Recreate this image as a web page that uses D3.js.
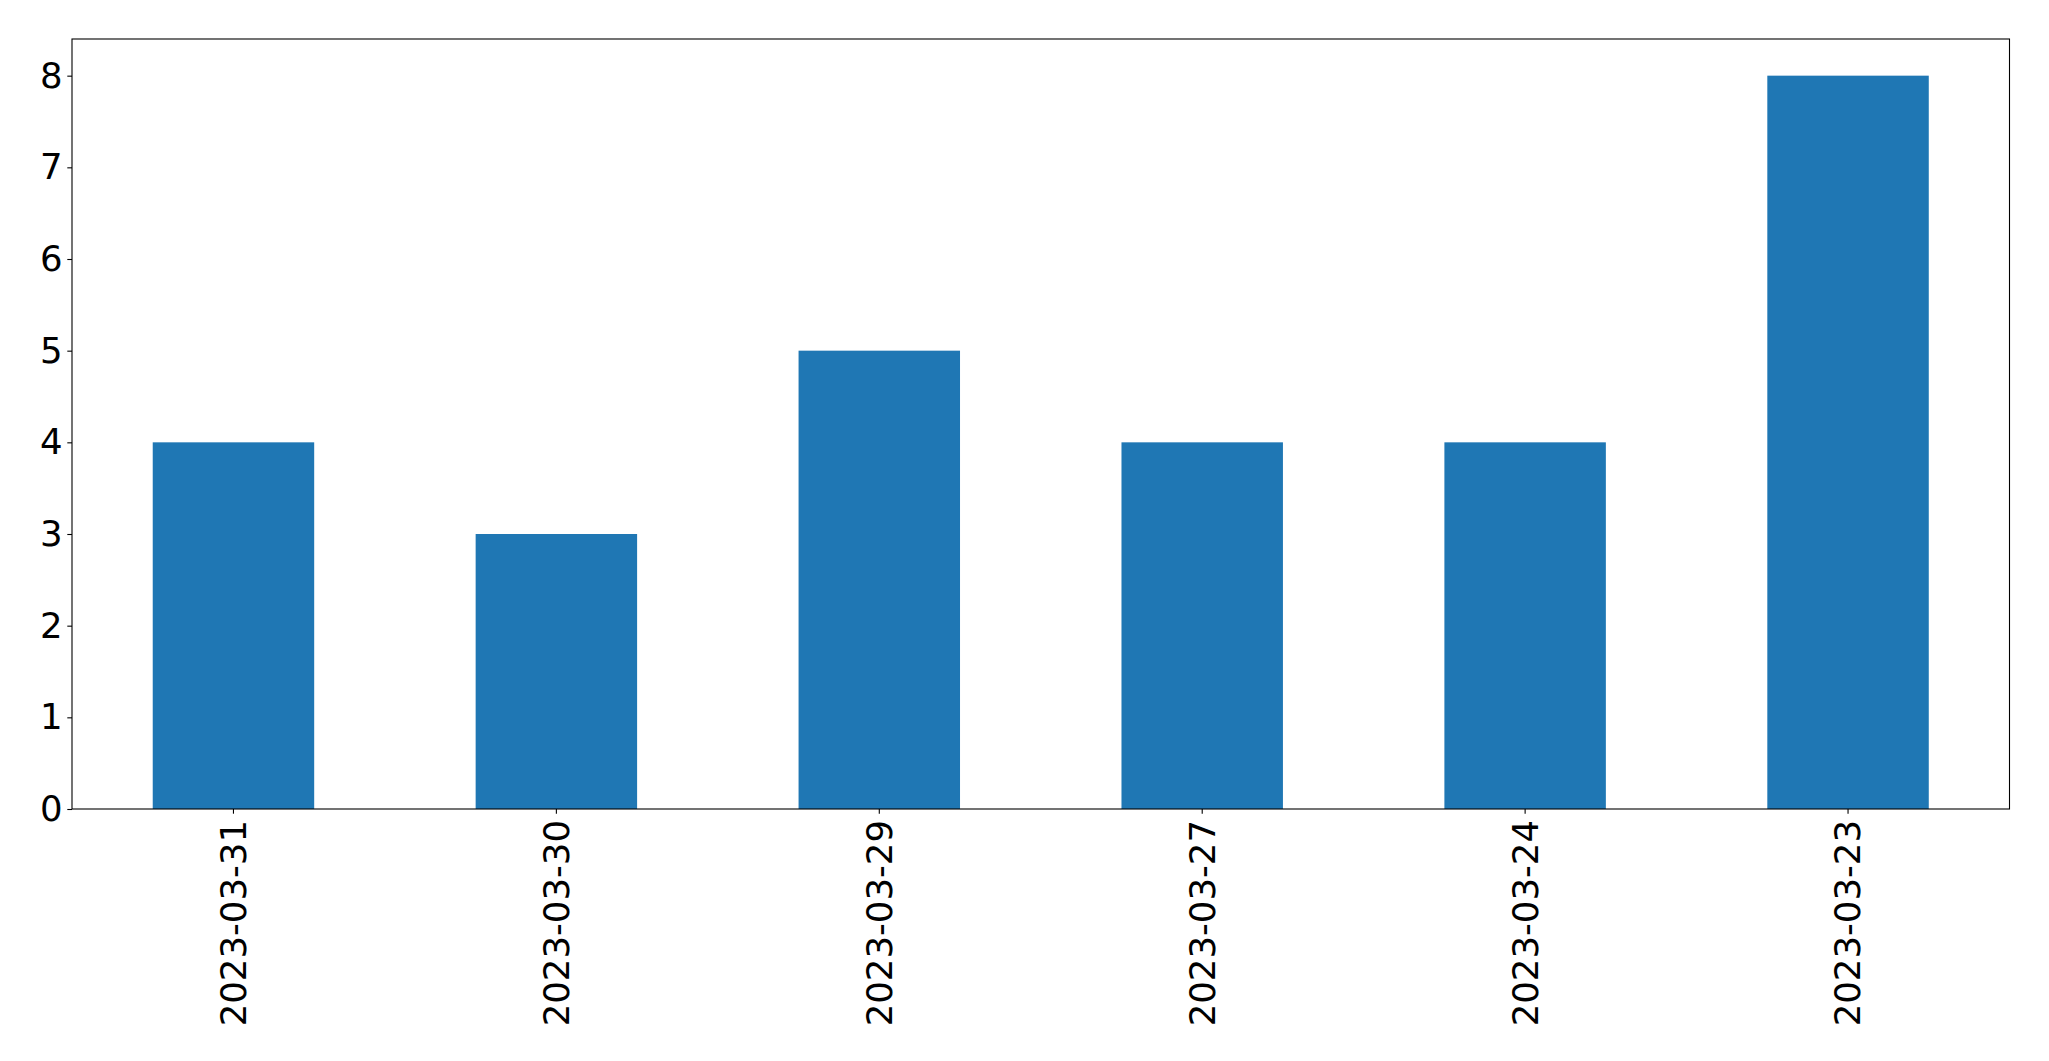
<!DOCTYPE html>
<html>
<head>
<meta charset="utf-8">
<script src="https://cdn.jsdelivr.net/npm/d3@7"></script>
<style>
  html, body { margin: 0; padding: 0; background: #fff; }
  svg { display: block; }
  text { font-family: "DejaVu Sans", sans-serif; }
</style>
</head>
<body>
<script>
const categories = ["2023-03-31", "2023-03-30", "2023-03-29", "2023-03-27", "2023-03-24", "2023-03-23"];
const values = [4, 3, 5, 4, 4, 8];
const yTicks = [0, 1, 2, 3, 4, 5, 6, 7, 8];

const W = 2049, H = 1061;
const margin = { left: 72, right: W - 2009.5, top: 39, bottom: H - 809 };
const svg = d3.select("body").append("svg").attr("width", W).attr("height", H);

const x = d3.scaleBand().domain(categories)
  .range([margin.left, W - margin.right])
  .paddingInner(0.5).paddingOuter(0.25);
const y = d3.scaleLinear().domain([0, 8.4]).range([H - margin.bottom, margin.top]);

svg.append("g").selectAll("rect").data(categories).join("rect")
  .attr("x", d => x(d))
  .attr("width", x.bandwidth())
  .attr("y", (d, i) => y(values[i]))
  .attr("height", (d, i) => y(0) - y(values[i]))
  .attr("fill", "#1f77b4");

const fs = 35.5;
const yAxis = svg.append("g").attr("transform", `translate(${margin.left},0)`)
  .call(d3.axisLeft(y).tickValues(yTicks).tickFormat(d3.format("d")).tickSize(4.7).tickPadding(4.7));
yAxis.select(".domain").remove();
yAxis.selectAll("text").attr("font-size", fs).attr("fill", "#000").attr("font-family", "DejaVu Sans");
yAxis.selectAll("line").attr("stroke", "#000").attr("stroke-width", 1.1);

const xAxis = svg.append("g").attr("transform", `translate(0,${H - margin.bottom})`)
  .call(d3.axisBottom(x).tickSize(4.7).tickPadding(0));
xAxis.select(".domain").remove();
xAxis.selectAll("line").attr("stroke", "#000").attr("stroke-width", 1.1);
xAxis.selectAll("text")
  .attr("font-size", fs).attr("fill", "#000").attr("font-family", "DejaVu Sans")
  .attr("transform", "translate(0,11) rotate(-90)")
  .attr("text-anchor", "end")
  .attr("dy", "0.35em")
  .attr("x", 0).attr("y", 0);

svg.append("rect")
  .attr("x", margin.left).attr("y", margin.top)
  .attr("width", W - margin.right - margin.left)
  .attr("height", H - margin.bottom - margin.top)
  .attr("fill", "none").attr("stroke", "#000").attr("stroke-width", 1.1);
</script>
</body>
</html>
